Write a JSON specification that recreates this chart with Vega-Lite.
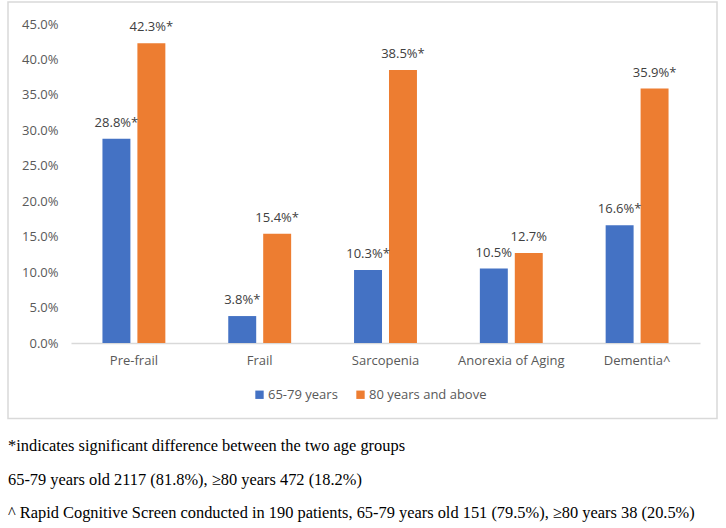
{
  "$schema": "https://vega.github.io/schema/vega-lite/v6.json",
  "width": 629,
  "height": 319,
  "autosize": {"type": "none"},
  "padding": {"left": 71, "top": 24, "right": 26, "bottom": 185},
  "background": "white",
  "datasets": {
    "bars": [
      {"category": "Pre-frail", "group": "65-79 years", "value": 0.288, "label": "28.8%*"},
      {"category": "Pre-frail", "group": "80 years and above", "value": 0.423, "label": "42.3%*"},
      {"category": "Frail", "group": "65-79 years", "value": 0.038, "label": "3.8%*"},
      {"category": "Frail", "group": "80 years and above", "value": 0.154, "label": "15.4%*"},
      {"category": "Sarcopenia", "group": "65-79 years", "value": 0.103, "label": "10.3%*"},
      {"category": "Sarcopenia", "group": "80 years and above", "value": 0.385, "label": "38.5%*"},
      {"category": "Anorexia of Aging", "group": "65-79 years", "value": 0.105, "label": "10.5%"},
      {"category": "Anorexia of Aging", "group": "80 years and above", "value": 0.127, "label": "12.7%"},
      {"category": "Dementia^", "group": "65-79 years", "value": 0.166, "label": "16.6%*"},
      {"category": "Dementia^", "group": "80 years and above", "value": 0.359, "label": "35.9%*"}
    ],
    "frame": [{"name": "chart area"}]
  },
  "title": {
    "text": [
      "*indicates significant difference between the two age groups",
      "65-79 years old 2117 (81.8%), \u226580 years 472 (18.2%)",
      "^ Rapid Cognitive Screen conducted in 190 patients, 65-79 years old 151 (79.5%), \u226580 years 38 (20.5%)"
    ],
    "orient": "bottom",
    "anchor": "start",
    "frame": "group",
    "dx": -63,
    "offset": 19,
    "font": "Liberation Serif",
    "fontSize": 16.4,
    "fontWeight": "normal",
    "color": "#000000",
    "lineHeight": 33.5,
    "baseline": "top"
  },
  "layer": [
    {
      "data": {"name": "frame"},
      "mark": {"type": "rect", "fill": null, "fillOpacity": 0, "stroke": "#d9d9d9", "strokeWidth": 1.5, "clip": false},
      "encoding": {
        "x": {"datum": 0, "type": "quantitative", "scale": {"domain": [0, 1], "range": [-63, 646]}, "axis": null},
        "x2": {"datum": 1},
        "y": {"datum": 0.481, "type": "quantitative", "scale": {"domain": [0, 0.45], "nice": false}, "axis": null},
        "y2": {"datum": -0.1065}
      }
    },
    {
      "data": {"name": "bars"},
      "encoding": {
        "x": {
          "field": "category",
          "type": "nominal",
          "sort": null,
          "title": null,
          "scale": {"paddingInner": 0.5, "paddingOuter": 0.25},
          "axis": {
            "labelAngle": 0,
            "ticks": false,
            "domainColor": "#d9d9d9",
            "domainWidth": 1.5,
            "labelPadding": 11,
            "labelFont": "Open Sans",
            "labelFontSize": 13,
            "labelColor": "#595959"
          }
        },
        "xOffset": {
          "field": "group",
          "type": "nominal",
          "scale": {"paddingInner": 0.2, "paddingOuter": 0}
        },
        "y": {
          "field": "value",
          "type": "quantitative",
          "title": null,
          "scale": {"domain": [0, 0.45], "nice": false},
          "axis": {
            "format": ".1%",
            "values": [0, 0.05, 0.1, 0.15, 0.2, 0.25, 0.3, 0.35, 0.4, 0.45],
            "domain": false,
            "ticks": false,
            "labelPadding": 13,
            "labelFont": "Open Sans",
            "labelFontSize": 13,
            "labelColor": "#595959",
            "gridColor": "#d9d9d9",
            "gridWidth": 1.2
          }
        }
      },
      "layer": [
        {
          "mark": {"type": "bar"},
          "encoding": {
            "color": {
              "field": "group",
              "type": "nominal",
              "scale": {"domain": ["65-79 years", "80 years and above"], "range": ["#4472C4", "#ED7D31"]},
              "legend": {
                "title": null,
                "orient": "none",
                "direction": "horizontal",
                "legendX": 182,
                "legendY": 364,
                "symbolType": "square",
                "symbolSize": 70,
                "symbolStrokeWidth": 0,
                "labelFont": "Open Sans",
                "labelFontSize": 13,
                "labelColor": "#595959",
                "columnPadding": 16,
                "labelOffset": 2
              }
            }
          }
        },
        {
          "mark": {"type": "text", "baseline": "bottom", "dy": -9, "font": "Open Sans", "fontSize": 13, "color": "#404040"},
          "encoding": {
            "text": {"field": "label"}
          }
        }
      ]
    }
  ],
  "resolve": {"scale": {"x": "independent"}, "axis": {"x": "independent", "y": "independent"}},
  "config": {
    "view": {"stroke": null}
  }
}
